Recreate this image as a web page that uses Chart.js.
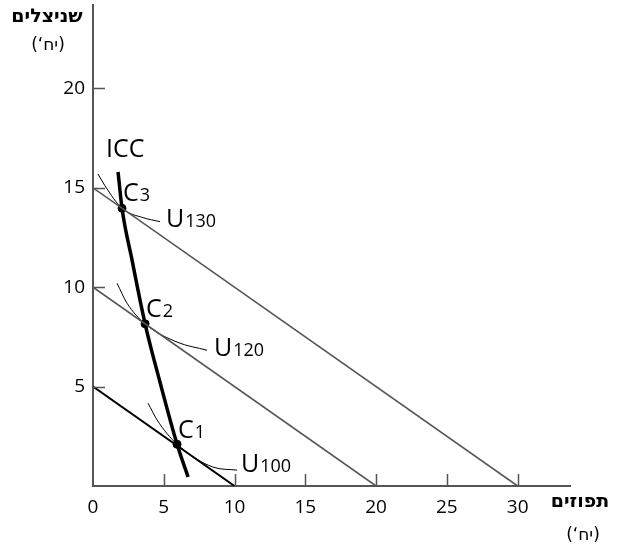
<!DOCTYPE html>
<html>
<head>
<meta charset="utf-8">
<script src="https://cdn.jsdelivr.net/npm/chart.js@4"></script>
<style>
    html, body { margin: 0; padding: 0; background: #fff; }
    #wrap { width: 619px; height: 548px; }
</style>
</head>
<body>
<div id="wrap"><canvas id="chart" width="619" height="548"></canvas></div>
<script>
// --- data ---
const xTicks = [0, 5, 10, 15, 20, 25, 30];
const yTicks = [5, 10, 15, 20];

const budget100 = [{ x: 0, y: 5 }, { x: 10, y: 0 }];
const budget120 = [{ x: 0, y: 10 }, { x: 20, y: 0 }];
const budget130 = [{ x: 0, y: 15 }, { x: 30, y: 0 }];

const iccCurve = [
    { x: 1.77, y: 15.8 }, { x: 2.05, y: 13.97 }, { x: 2.76, y: 11.36 },
    { x: 3.68, y: 8.16 }, { x: 4.75, y: 5.18 }, { x: 5.94, y: 2.1 }, { x: 6.72, y: 0.45 }
];
const u130 = [{ x: 0.35, y: 15.7 }, { x: 0.85, y: 15.1 }, { x: 2.05, y: 13.97 }, { x: 3.54, y: 13.5 }, { x: 4.74, y: 13.3 }];
const u120 = [{ x: 1.7, y: 10.2 }, { x: 2.4, y: 9.2 }, { x: 3.68, y: 8.16 }, { x: 5.94, y: 7.24 }, { x: 8.06, y: 6.83 }];
const u100 = [{ x: 3.89, y: 4.17 }, { x: 4.53, y: 3.32 }, { x: 5.94, y: 2.1 }, { x: 8.49, y: 0.95 }, { x: 10.18, y: 0.8 }];
const optimum = [{ x: 2.05, y: 13.97 }, { x: 3.68, y: 8.16 }, { x: 5.94, y: 2.1 }];

const xTitle = 'תפוזים';
const yTitle = 'שניצלים';
const unitLabel = '(יח‘)';

const axisGray = '#555555';
const font = "'Open Sans', sans-serif";
const hebFont = "'DejaVu Sans', sans-serif";

function lineSet(data, color, width, smooth) {
    return {
        data: data,
        showLine: true,
        borderColor: color,
        borderWidth: width,
        pointRadius: 0,
        cubicInterpolationMode: smooth ? 'monotone' : 'default',
        fill: false
    };
}

// inward tick marks, labels and axis titles
const extras = {
    id: 'extras',
    afterDatasetsDraw(chart) {
        const ctx = chart.ctx;
        const xs = chart.scales.x, ys = chart.scales.y;
        const x0 = xs.getPixelForValue(0), y0 = ys.getPixelForValue(0);
        ctx.save();
        ctx.strokeStyle = axisGray;
        ctx.lineWidth = 1.5;
        ctx.beginPath();
        xTicks.filter(v => v > 0).forEach(v => {
            const px = Math.round(xs.getPixelForValue(v)) + 0.5;
            ctx.moveTo(px, y0); ctx.lineTo(px, y0 - 12);
        });
        yTicks.forEach(v => {
            const py = Math.round(ys.getPixelForValue(v)) + 0.5;
            ctx.moveTo(x0, py); ctx.lineTo(x0 + 12, py);
        });
        ctx.stroke();

        ctx.fillStyle = '#000';
        ctx.textBaseline = 'alphabetic';
        ctx.textAlign = 'left';
        const sub = (big, small, x, y) => {
            ctx.font = '25px ' + font;
            ctx.fillText(big, x, y);
            const w = ctx.measureText(big).width;
            ctx.font = '18px ' + font;
            ctx.fillText(small, x + w + 1, y);
        };
        ctx.font = '25px ' + font;
        ctx.fillText('ICC', 106, 157);
        sub('C', '3', 123, 201);
        sub('C', '2', 146, 317);
        sub('C', '1', 178, 438);
        sub('U', '130', 166, 227);
        sub('U', '120', 214, 356);
        sub('U', '100', 241, 472);

        ctx.direction = 'rtl';
        ctx.textAlign = 'center';
        ctx.font = 'bold 19px ' + hebFont;
        ctx.fillText(yTitle, 47, 22);
        ctx.fillText(xTitle, 580, 507);
        ctx.font = '17px ' + hebFont;
        ctx.fillText(unitLabel, 48, 50);
        ctx.fillText(unitLabel, 583, 540);
        ctx.restore();
    }
};

new Chart(document.getElementById('chart'), {
    type: 'scatter',
    data: {
        datasets: [
            lineSet(budget130, axisGray, 1.6, false),
            lineSet(budget120, axisGray, 1.6, false),
            lineSet(budget100, '#000', 2, false),
            lineSet(u130, '#000', 1, true),
            lineSet(u120, '#000', 1, true),
            lineSet(u100, '#000', 1, true),
            lineSet(iccCurve, '#000', 3.5, true),
            {
                data: optimum,
                pointRadius: 4,
                pointBackgroundColor: '#000',
                pointBorderColor: '#000',
                showLine: false
            }
        ]
    },
    options: {
        responsive: false,
        animation: false,
        layout: { padding: { left: 0, top: 5, right: 49, bottom: 0 } },
        plugins: { legend: { display: false }, tooltip: { enabled: false } },
        scales: {
            x: {
                type: 'linear',
                min: 0,
                max: 33.7,
                afterBuildTicks: s => { s.ticks = xTicks.map(v => ({ value: v })); },
                afterFit: s => { s.height = 62; s.paddingLeft = 0; s.paddingRight = 0; },
                grid: { display: false, drawTicks: false },
                border: { display: true, color: axisGray, width: 2 },
                ticks: { color: '#000', padding: 10, font: { family: font, size: 19 } }
            },
            y: {
                type: 'linear',
                min: 0,
                max: 24.2,
                afterBuildTicks: s => { s.ticks = yTicks.map(v => ({ value: v })); },
                afterFit: s => { s.width = 93; s.paddingTop = 0; s.paddingBottom = 0; },
                grid: { display: false, drawTicks: false },
                border: { display: true, color: axisGray, width: 2 },
                ticks: { color: '#000', padding: 8, font: { family: font, size: 19 } }
            }
        }
    },
    plugins: [extras]
});
</script>
</body>
</html>
